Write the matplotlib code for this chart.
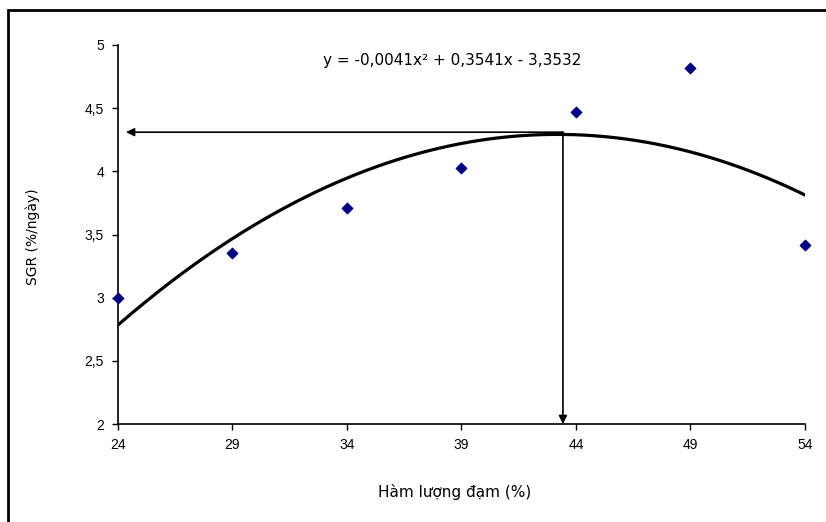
import matplotlib
matplotlib.use("Agg")
import matplotlib.pyplot as plt
import numpy as np
from matplotlib.patches import Rectangle

plt.rcParams['font.family'] = ['Liberation Sans', 'DejaVu Sans']

# data
protein = [24, 29, 34, 39, 44, 49, 54]
sgr = [3.00, 3.35, 3.71, 4.03, 4.47, 4.82, 3.42]
# trendline coefficients (y = a x^2 + b x + c)
coef_a, coef_b, coef_c = -0.0041, 0.3541, -3.3532
x_ticks = [24, 29, 34, 39, 44, 49, 54]
y_ticks = [2, 2.5, 3, 3.5, 4, 4.5, 5]
y_tick_labels = ["2", "2,5", "3", "3,5", "4", "4,5", "5"]
opt_x, opt_y = 43.43, 4.31
equation = "y = -0,0041x² + 0,3541x - 3,3532"

W, H = 826, 522
fig = plt.figure(figsize=(W/100, H/100), dpi=100)
ax = fig.add_axes([118/W, 1-424/H, (805-118)/W, (424-45)/H])

# outer frame
fig.patches.append(Rectangle((8/W, -0.1), 1.2, 1-10/H+0.1, transform=fig.transFigure,
                             fill=False, edgecolor='black', linewidth=2))

xs = np.linspace(24, 54, 200)
ax.plot(xs, np.polyval([coef_a, coef_b, coef_c], xs), color='black', lw=2.3, zorder=3)
ax.scatter(protein, sgr, marker='D', s=28, color='#000080', zorder=4, clip_on=False)

ax.annotate('', xy=(24.35, opt_y), xytext=(opt_x, opt_y),
            arrowprops=dict(arrowstyle='-|>', color='black', lw=1.2, mutation_scale=12,
                            shrinkA=0, shrinkB=0))
ax.annotate('', xy=(opt_x, 2.0), xytext=(opt_x, opt_y),
            arrowprops=dict(arrowstyle='-|>', color='black', lw=1.2, mutation_scale=12,
                            shrinkA=0, shrinkB=0), annotation_clip=False)

ax.set_xlim(24, 54)
ax.set_ylim(2, 5)
ax.set_xticks(x_ticks)
ax.set_yticks(y_ticks)
ax.set_yticklabels(y_tick_labels)
ax.tick_params(axis='both', labelsize=10, length=4, width=1, direction='out', pad=6)
for s in ['top', 'right']:
    ax.spines[s].set_visible(False)
for s in ['left', 'bottom']:
    ax.spines[s].set_linewidth(1.2)

fig.text(452/W, 1-60/H, equation, ha='center', va='center', fontsize=11,
         family=['DejaVu Sans'])
fig.text(455/W, 1-492/H, "Hàm lượng đạm (%)", ha='center', va='center', fontsize=11,
         family=['DejaVu Sans'])
fig.text(33/W, 1-237/H, "SGR (%/ngày)", ha='center', va='center', fontsize=10,
         rotation=90, family=['DejaVu Sans'])

fig.savefig("out.png", dpi=100)
